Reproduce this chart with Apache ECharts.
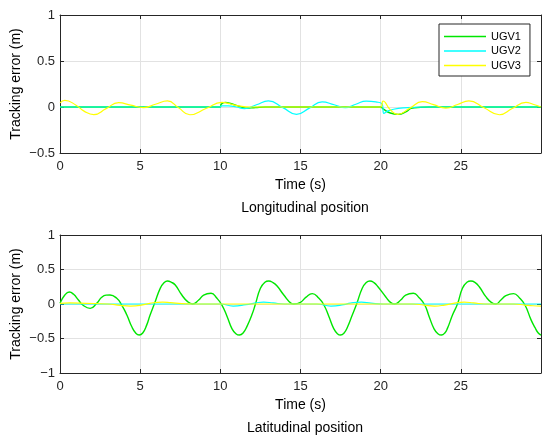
<!DOCTYPE html>
<html>
<head>
<meta charset="utf-8">
<script src="https://cdn.jsdelivr.net/npm/echarts@6.0.0/dist/echarts.min.js"></script>
<style>
  html, body { margin: 0; padding: 0; background: #fff; }
  #main { width: 550px; height: 440px; }
</style>
</head>
<body>
<div id="main"></div>
<script>
// series names
var names = ['UGV1', 'UGV2', 'UGV3'];

// longitudinal tracking error (top panel)
var lonTimeG = [0, 10, 10.05, 10.3, 10.7, 11.2, 11.6, 12.2, 12.8, 20, 20.15, 20.6, 21.1, 21.6, 21.9, 22.5, 23, 30];
var lonUgv1  = [0, 0, 0.03, 0.05, 0.035, 0.005, -0.012, -0.005, 0, 0, -0.02, -0.065, -0.08, -0.05, -0.015, -0.003, 0, 0];

var lonTimeC = [0, 10, 10.05, 10.5, 11.0, 11.5, 12.25, 13.0, 13.9, 14.75, 15.55, 16.35, 17.1, 17.8, 18.45, 19.1, 19.7, 20.1, 20.2, 20.5, 21.1, 22, 23, 30];
var lonUgv2  = [0, 0, 0.012, 0.012, 0.0, -0.018, 0.024, 0.066, -0.007, -0.08, -0.012, 0.055, 0.024, -0.007, 0.03, 0.064, 0.055, 0.03, -0.07, -0.04, -0.015, -0.005, 0, 0];

var lonTimeY = [0, 0.3, 1.0, 1.5, 2.1, 2.875, 3.65, 4.42, 5.2, 5.95, 6.7, 7.4, 8.1, 9.1, 10.1, 10.6, 11.1, 11.6, 12.2, 20, 20.15, 20.6, 21.05, 21.8, 22.6, 23.3, 24.06, 24.8, 25.5, 26.45, 27.4, 28.2, 29.06, 29.5, 30];
var lonUgv3  = [0.045, 0.072, 0.02, -0.045, -0.083, -0.018, 0.047, 0.02, -0.007, 0.03, 0.066, -0.009, -0.084, -0.017, 0.05, 0.035, 0.012, 0.002, 0, 0, 0.065, -0.03, -0.08, -0.015, 0.058, 0.025, -0.012, 0.027, 0.066, -0.009, -0.084, -0.017, 0.05, 0.03, 0];

// latitudinal tracking error (bottom panel)
var latTimeG = [0, 0.3, 0.58, 0.85, 1.15, 1.42, 1.88, 2.29, 2.6, 2.87, 3.12, 3.54, 3.85,
                4.17, 4.48, 4.72, 4.94, 5.16, 5.4, 5.62, 5.9, 6.25, 6.5, 6.7, 6.95, 7.19, 7.6, 7.96, 8.27,
                8.65, 8.96, 9.42, 9.79, 10.1,
                10.42, 10.73, 10.97, 11.19, 11.42, 11.67, 11.98, 12.19, 12.5, 12.78, 13.02, 13.28, 13.54, 13.96, 14.42, 14.58,
                15.0, 15.35, 15.73, 16.15, 16.46,
                16.77, 17.08, 17.3, 17.5, 17.72, 17.92, 18.23, 18.5, 18.85, 19.1, 19.33, 19.58, 19.83, 20.31, 20.63, 20.88,
                21.25, 21.56, 22.04, 22.4, 22.75,
                23.02, 23.33, 23.57, 23.79, 24.0, 24.17, 24.48, 24.79, 25.1, 25.38, 25.63, 25.9, 26.15, 26.56, 26.92, 27.19,
                27.5, 27.81, 28.29, 28.65, 29.0, 29.38, 29.62, 29.83, 30];
var latUgv1  = [0.01, 0.13, 0.174, 0.14, 0.058, -0.015, -0.063, 0.01, 0.097, 0.128, 0.13, 0.082, -0.015,
                -0.16, -0.33, -0.42, -0.45, -0.42, -0.31, -0.16, 0.01, 0.227, 0.31, 0.333, 0.315, 0.275, 0.13, 0.034, 0,
                0.058, 0.13, 0.155, 0.082, -0.015,
                -0.18, -0.36, -0.43, -0.45, -0.42, -0.32, -0.15, 0, 0.227, 0.315, 0.333, 0.31, 0.26, 0.13, 0.01, 0,
                0.024, 0.1, 0.15, 0.082, -0.015,
                -0.18, -0.36, -0.43, -0.45, -0.42, -0.34, -0.16, 0, 0.227, 0.31, 0.333, 0.31, 0.25, 0.106, 0.02, 0,
                0.058, 0.13, 0.155, 0.09, -0.015,
                -0.18, -0.36, -0.43, -0.45, -0.42, -0.35, -0.16, 0, 0.227, 0.315, 0.333, 0.31, 0.25, 0.106, 0.02, 0,
                0.058, 0.12, 0.15, 0.09, -0.015, -0.23, -0.34, -0.42, -0.45];

var latTimeC = [0, 10.0, 10.8, 11.6, 12.2, 12.7, 13.3, 14.0, 16.0, 16.9, 17.7, 18.1, 18.8, 19.4, 20.2, 30];
var latUgv2  = [0, 0, -0.03, -0.01, 0.015, 0.028, 0.015, 0, 0, -0.03, -0.01, 0.012, 0.028, 0.012, 0, 0];

var latTimeY = [0, 0.6, 1.6, 3.0, 3.75, 4.4, 5.0, 5.6, 6.4, 6.9, 7.6, 8.3, 22.0, 22.7, 23.35, 24.0, 24.6, 25.2, 25.8, 26.5, 28.3, 29.0, 29.5, 30];
var latUgv3  = [0.01, 0.015, 0.01, 0, -0.02, -0.03, -0.02, 0.01, 0.028, 0.02, 0.005, 0, 0, -0.015, -0.03, -0.015, 0.012, 0.028, 0.015, 0, 0, -0.015, -0.025, -0.03];

var colors = ['#00e600', '#00ffff', '#ffff00'];
var widths = [1.4, 1.2, 1.2];

var axisColor = '#262626';
var gridColor = '#e2e2e2';
var font = '"Liberation Sans", Arial, Helvetica, sans-serif';

function pairs(t, v) {
    return t.map(function (x, i) { return [x, v[i]]; });
}
function minus(v) {
    return String(v).replace('-', '\u2212');
}

function xAxes(g) {
    return [{
        type: 'value', gridIndex: g, min: 0, max: 30, interval: 5,
        name: 'Time (s)', nameLocation: 'middle', nameGap: 25, nameMoveOverlap: false,
        nameTextStyle: { fontSize: 14, color: '#000', fontFamily: font },
        axisLine: { show: true, onZero: false, lineStyle: { color: axisColor } },
        axisTick: { show: true, inside: true, length: 4, lineStyle: { color: axisColor } },
        axisLabel: { showMaxLabel: false, fontSize: 13, color: axisColor, margin: 7, fontFamily: font },
        splitLine: { show: true, lineStyle: { color: gridColor } }
    }, {
        type: 'value', gridIndex: g, min: 0, max: 30, interval: 5, position: 'top',
        axisLine: { show: true, onZero: false, lineStyle: { color: axisColor } },
        axisTick: { show: true, inside: true, length: 4, lineStyle: { color: axisColor } },
        axisLabel: { show: false },
        splitLine: { show: false }
    }];
}

function yAxes(g, lo) {
    return [{
        type: 'value', gridIndex: g, min: lo, max: 1, interval: 0.5,
        name: 'Tracking error (m)', nameLocation: 'middle', nameGap: 37, nameMoveOverlap: false,
        nameTextStyle: { fontSize: 14, color: '#000', fontFamily: font },
        axisLine: { show: true, onZero: false, lineStyle: { color: axisColor } },
        axisTick: { show: true, inside: true, length: 4, lineStyle: { color: axisColor } },
        axisLabel: { fontSize: 13, color: axisColor, margin: 5, fontFamily: font, formatter: minus },
        splitLine: { show: true, lineStyle: { color: gridColor } }
    }, {
        type: 'value', gridIndex: g, min: lo, max: 1, interval: 0.5, position: 'right',
        axisLine: { show: true, onZero: false, lineStyle: { color: axisColor } },
        axisTick: { show: true, inside: true, length: 4, lineStyle: { color: axisColor } },
        axisLabel: { show: false },
        splitLine: { show: false }
    }];
}

function line(i, axis, t, v) {
    return {
        name: names[i], type: 'line', xAxisIndex: axis, yAxisIndex: axis,
        data: pairs(t, v), smooth: 0.5, symbol: 'none',
        lineStyle: { color: colors[i], width: widths[i] },
        itemStyle: { color: colors[i] }
    };
}

var chart = echarts.init(document.getElementById('main'));
chart.setOption({
    animation: false,
    backgroundColor: '#fff',
    title: [
        { text: 'Longitudinal position', left: 300, top: 196, textAlign: 'center',
          textStyle: { fontSize: 14, fontWeight: 'normal', color: '#000', fontFamily: font } },
        { text: 'Latitudinal position', left: 300, top: 416, textAlign: 'center',
          textStyle: { fontSize: 14, fontWeight: 'normal', color: '#000', fontFamily: font } }
    ],
    legend: {
        data: names, orient: 'vertical', left: 439, top: 24,
        icon: 'rect', itemWidth: 42, itemHeight: 1.5, itemGap: 3.5, padding: [7, 9, 5, 5],
        backgroundColor: '#fff', borderColor: axisColor, borderWidth: 1,
        selectedMode: false,
        textStyle: { fontSize: 11, color: '#000', fontFamily: font }
    },
    grid: [
        { left: 60, top: 15, width: 481, height: 138, outerBoundsMode: 'none' },
        { left: 60, top: 235, width: 481, height: 138, outerBoundsMode: 'none' }
    ],
    xAxis: xAxes(0).concat(xAxes(1)),
    yAxis: yAxes(0, -0.5).concat(yAxes(1, -1)),
    series: [
        line(0, 0, lonTimeG, lonUgv1),
        line(1, 0, lonTimeC, lonUgv2),
        line(2, 0, lonTimeY, lonUgv3),
        line(0, 2, latTimeG, latUgv1),
        line(1, 2, latTimeC, latUgv2),
        line(2, 2, latTimeY, latUgv3)
    ]
});
</script>
</body>
</html>
